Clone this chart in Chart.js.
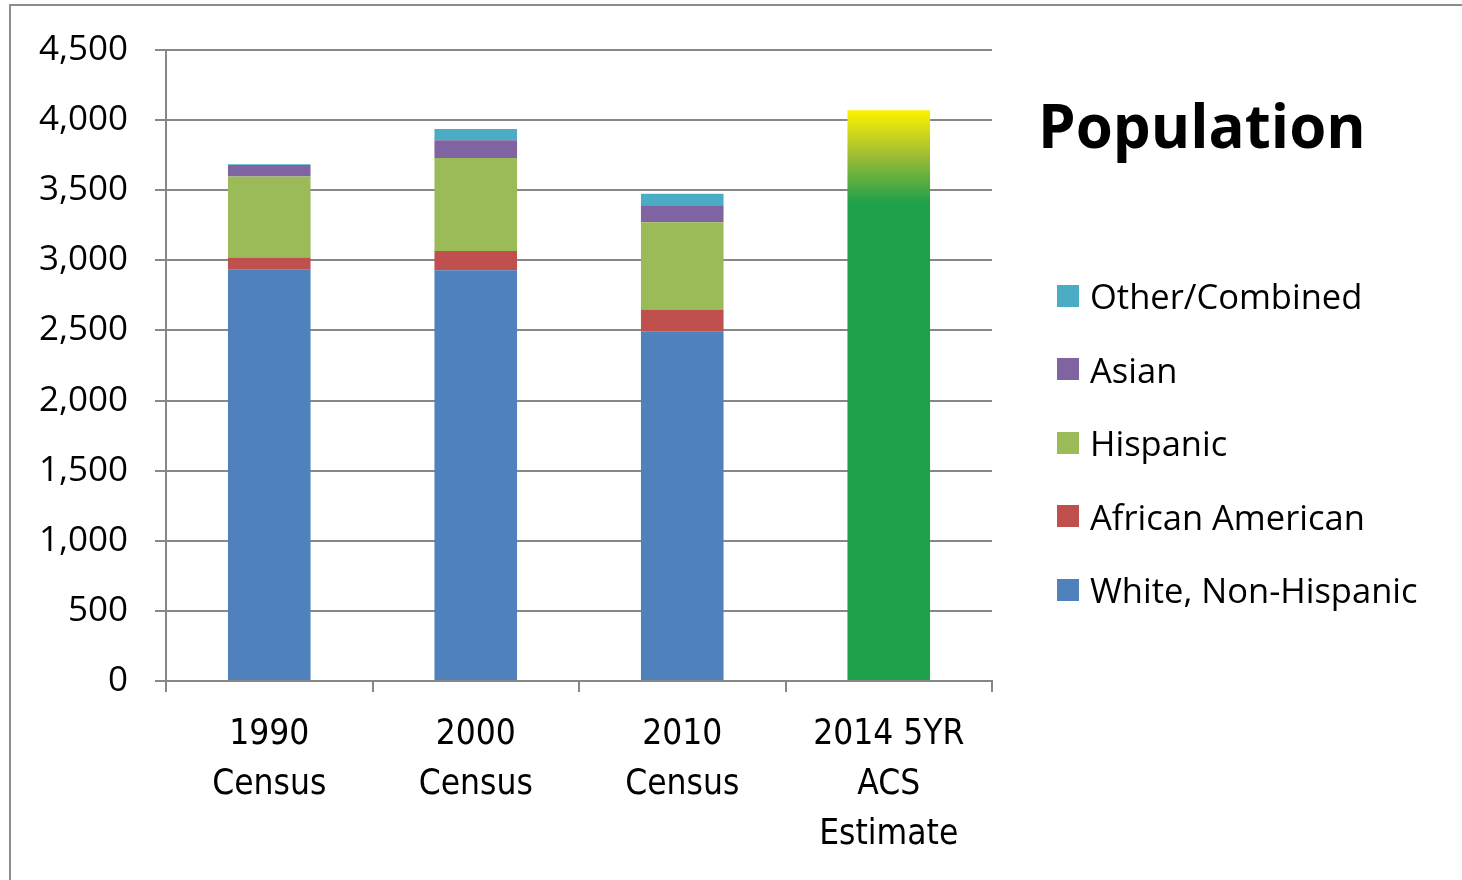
<!DOCTYPE html>
<html lang="en">
<head>
    <meta charset="UTF-8">
    <title>Population</title>
    <script src="https://cdn.jsdelivr.net/npm/chart.js"></script>
    <style>
        body { margin: 0; background: #fff; }
        #wrap { position: relative; width: 1462px; height: 880px; overflow: hidden; }
        #frame { position: absolute; left: 9px; top: 4px; width: 1460px; height: 880px;
                 border-left: 2px solid #8c8c8c; border-top: 2px solid #8c8c8c; }
        #title { position: absolute; left: 1038px; top: 95px; font: bold 60px 'Open Sans', sans-serif;
                 line-height: 60px; color: #000; margin: 0; }
        #legend { position: absolute; left: 1057px; top: 259px; list-style: none; margin: 0; padding: 0; }
        #legend li { height: 73.5px; display: flex; align-items: center;
                     font: 34.5px 'Open Sans', sans-serif; color: #000; }
        #legend span.box { width: 22px; height: 22px; margin-right: 11px; display: inline-block; }
    </style>
</head>
<body>
<div id="wrap">
    <canvas id="popChart" width="1462" height="880"></canvas>
    <div id="frame"></div>
    <div id="title">Population</div>
    <ul id="legend"></ul>
</div>

<script>
    const categories = [['1990', 'Census'], ['2000', 'Census'], ['2010', 'Census'], ['2014 5YR', 'ACS', 'Estimate']];
    const whiteNonHispanic = [2933, 2929, 2491, null];
    const africanAmerican = [88, 138, 159, null];
    const hispanic = [577, 662, 621, null];
    const asian = [81, 128, 122, null];
    const otherCombined = [7, 79, 81, null];
    const acsTotal = [null, null, null, 4071];

    // gradient on the ACS bar: yellow at the top fading into green
    function acsFill(context) {
        var chart = context.chart;
        if (!chart.chartArea) return '#1fa04a';
        var y = chart.scales.y;
        var g = chart.ctx.createLinearGradient(0, y.getPixelForValue(4071), 0, y.getPixelForValue(3410));
        g.addColorStop(0, '#fff200');
        g.addColorStop(0.5, '#9cbc35');
        g.addColorStop(1, '#1fa04a');
        return g;
    }

    var htmlLegend = {
        id: 'htmlLegend',
        afterUpdate: function(chart) {
            var ul = document.getElementById('legend');
            ul.innerHTML = '';
            var items = chart.options.plugins.legend.labels.generateLabels(chart)
                .filter(function(it) { return it.text !== 'ACS'; })
                .reverse();
            items.forEach(function(it) {
                var li = document.createElement('li');
                var box = document.createElement('span');
                box.className = 'box';
                box.style.background = it.fillStyle;
                li.appendChild(box);
                li.appendChild(document.createTextNode(it.text));
                ul.appendChild(li);
            });
        }
    };

    var gridColor = '#878787';
    var ctx = document.getElementById('popChart').getContext('2d');
    var popChart = new Chart(ctx, {
        type: 'bar',
        data: {
            labels: categories,
            datasets: [
                { label: 'White, Non-Hispanic', data: whiteNonHispanic, backgroundColor: '#4f81bd' },
                { label: 'African American', data: africanAmerican, backgroundColor: '#c0504d' },
                { label: 'Hispanic', data: hispanic, backgroundColor: '#9bbb59' },
                { label: 'Asian', data: asian, backgroundColor: '#8064a2' },
                { label: 'Other/Combined', data: otherCombined, backgroundColor: '#4bacc6' },
                { label: 'ACS', data: acsTotal, backgroundColor: acsFill }
            ]
        },
        options: {
            responsive: false,
            animation: false,
            layout: { padding: { top: 50, right: 470, bottom: 0, left: 0 } },
            datasets: { bar: { categoryPercentage: 1, barPercentage: 0.4, borderWidth: 0 } },
            plugins: {
                legend: { display: false },
                tooltip: { enabled: false }
            },
            scales: {
                x: {
                    stacked: true,
                    grid: { color: gridColor, lineWidth: 2, drawOnChartArea: false, tickLength: 11 },
                    border: { color: gridColor, width: 2 },
                    ticks: {
                        color: '#000',
                        padding: 18,
                        maxRotation: 0,
                        font: { family: "'Liberation Sans Narrow', 'DejaVu Sans Condensed', sans-serif", size: 35, lineHeight: 1.43 }
                    },
                    afterFit: function(s) { s.height = 199; }
                },
                y: {
                    stacked: true,
                    min: 0,
                    max: 4500,
                    grid: { color: gridColor, lineWidth: 2, tickLength: 11 },
                    border: { color: gridColor, width: 2 },
                    ticks: {
                        stepSize: 500,
                        color: '#000',
                        padding: 27,
                        font: { family: "'Open Sans', sans-serif", size: 35 }
                    },
                    afterFit: function(s) { s.width = 166; }
                }
            }
        },
        plugins: [htmlLegend]
    });
</script>
</body>
</html>
